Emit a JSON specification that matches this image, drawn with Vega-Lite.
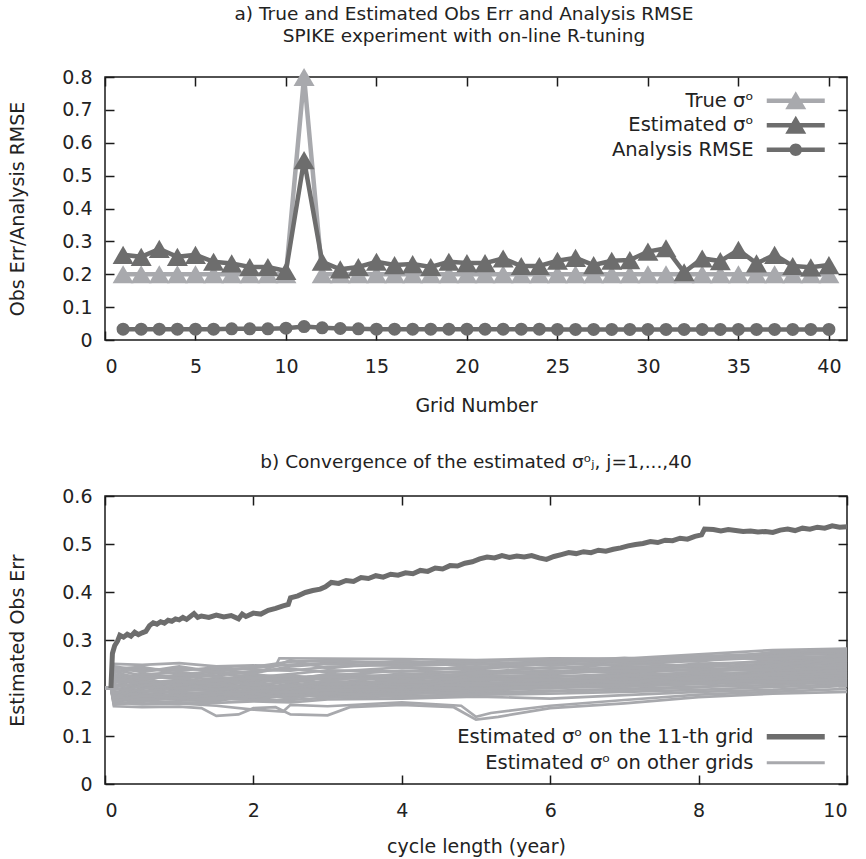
{
"$schema": "https://vega.github.io/schema/vega-lite/v6.json",
"padding": {"left": 8, "top": 4, "right": 18, "bottom": 10},
"bounds": "flush",
"spacing": 156,
"resolve": {"scale": {"color": "independent"}, "legend": {"color": "independent"}},
"config": {
  "font": "DejaVu Sans",
  "view": {"stroke": "#1a1a1a", "strokeWidth": 1.5},
  "axis": {"grid": false, "domain": false, "ticks": true, "zindex": 1, "tickOpacity": 1, "tickColor": "#1a1a1a", "tickSize": 9, "offset": -9, "tickWidth": 1.5, "labelFont": "DejaVu Sans", "labelFontSize": 19, "labelColor": "#222222", "titleFont": "DejaVu Sans", "titleFontSize": 19, "titleFontWeight": "normal", "titleColor": "#222222"},
  "axisY": {"labelPadding": 13, "titlePadding": 34},
  "axisX": {"labelPadding": 17, "titlePadding": 20},
  "title": {"font": "DejaVu Sans", "fontSize": 18.5, "fontWeight": "normal", "color": "#222222", "lineHeight": 22},
  "legend": {"labelFont": "DejaVu Sans", "labelFontSize": 19.5, "labelColor": "#222222", "padding": 0, "labelLimit": 0}
},
"datasets": {
"top": [
{"x":1,"tru":0.2,"est":0.259,"rmse":0.033},{"x":2,"tru":0.2,"est":0.253,"rmse":0.033},{"x":3,"tru":0.2,"est":0.277,"rmse":0.033},{"x":4,"tru":0.2,"est":0.253,"rmse":0.033},{"x":5,"tru":0.2,"est":0.259,"rmse":0.033},{"x":6,"tru":0.2,"est":0.238,"rmse":0.033},{"x":7,"tru":0.2,"est":0.233,"rmse":0.034},{"x":8,"tru":0.2,"est":0.222,"rmse":0.034},{"x":9,"tru":0.2,"est":0.222,"rmse":0.034},{"x":10,"tru":0.2,"est":0.21,"rmse":0.036},
{"x":11,"tru":0.8,"est":0.547,"rmse":0.041},{"x":12,"tru":0.2,"est":0.238,"rmse":0.037},{"x":13,"tru":0.2,"est":0.215,"rmse":0.035},{"x":14,"tru":0.2,"est":0.222,"rmse":0.034},{"x":15,"tru":0.2,"est":0.238,"rmse":0.033},{"x":16,"tru":0.2,"est":0.228,"rmse":0.033},{"x":17,"tru":0.2,"est":0.231,"rmse":0.033},{"x":18,"tru":0.2,"est":0.222,"rmse":0.033},{"x":19,"tru":0.2,"est":0.238,"rmse":0.033},{"x":20,"tru":0.2,"est":0.234,"rmse":0.033},
{"x":21,"tru":0.2,"est":0.234,"rmse":0.033},{"x":22,"tru":0.2,"est":0.248,"rmse":0.033},{"x":23,"tru":0.2,"est":0.225,"rmse":0.033},{"x":24,"tru":0.2,"est":0.225,"rmse":0.033},{"x":25,"tru":0.2,"est":0.241,"rmse":0.032},{"x":26,"tru":0.2,"est":0.25,"rmse":0.032},{"x":27,"tru":0.2,"est":0.228,"rmse":0.032},{"x":28,"tru":0.2,"est":0.241,"rmse":0.032},{"x":29,"tru":0.2,"est":0.243,"rmse":0.032},{"x":30,"tru":0.2,"est":0.269,"rmse":0.032},
{"x":31,"tru":0.2,"est":0.279,"rmse":0.032},{"x":32,"tru":0.2,"est":0.206,"rmse":0.032},{"x":33,"tru":0.2,"est":0.248,"rmse":0.032},{"x":34,"tru":0.2,"est":0.24,"rmse":0.032},{"x":35,"tru":0.2,"est":0.274,"rmse":0.032},{"x":36,"tru":0.2,"est":0.233,"rmse":0.032},{"x":37,"tru":0.2,"est":0.259,"rmse":0.032},{"x":38,"tru":0.2,"est":0.225,"rmse":0.032},{"x":39,"tru":0.2,"est":0.221,"rmse":0.032},{"x":40,"tru":0.2,"est":0.228,"rmse":0.032}
],
"g11": [
{"t":0.08,"v":0.2},{"t":0.1,"v":0.272},{"t":0.13,"v":0.288},{"t":0.17,"v":0.298},{"t":0.2,"v":0.31},{"t":0.25,"v":0.306},{"t":0.3,"v":0.312},{"t":0.35,"v":0.308},{"t":0.4,"v":0.316},{"t":0.45,"v":0.311},{"t":0.5,"v":0.315},{"t":0.55,"v":0.318},{"t":0.6,"v":0.33},{"t":0.65,"v":0.336},{"t":0.7,"v":0.333},{"t":0.75,"v":0.338},{"t":0.8,"v":0.335},{"t":0.85,"v":0.341},{"t":0.9,"v":0.339},{"t":0.95,"v":0.344},
{"t":1.0,"v":0.342},{"t":1.05,"v":0.347},{"t":1.1,"v":0.343},{"t":1.15,"v":0.349},{"t":1.2,"v":0.355},{"t":1.25,"v":0.347},{"t":1.3,"v":0.35},{"t":1.4,"v":0.347},{"t":1.5,"v":0.352},{"t":1.6,"v":0.348},{"t":1.7,"v":0.351},{"t":1.8,"v":0.344},{"t":1.85,"v":0.354},{"t":1.9,"v":0.349},{"t":2.0,"v":0.356},{"t":2.1,"v":0.354},{"t":2.2,"v":0.362},{"t":2.3,"v":0.366},{"t":2.4,"v":0.371},{"t":2.47,"v":0.374},
{"t":2.5,"v":0.388},{"t":2.6,"v":0.392},{"t":2.7,"v":0.399},{"t":2.8,"v":0.403},{"t":2.9,"v":0.406},{"t":2.97,"v":0.411},{"t":3.05,"v":0.42},{"t":3.15,"v":0.418},{"t":3.25,"v":0.424},{"t":3.35,"v":0.422},{"t":3.45,"v":0.43},{"t":3.55,"v":0.428},{"t":3.65,"v":0.434},{"t":3.75,"v":0.431},{"t":3.85,"v":0.437},{"t":3.95,"v":0.435},{"t":4.05,"v":0.44},{"t":4.15,"v":0.438},{"t":4.25,"v":0.445},{"t":4.35,"v":0.443},
{"t":4.45,"v":0.45},{"t":4.55,"v":0.448},{"t":4.65,"v":0.455},{"t":4.75,"v":0.454},{"t":4.85,"v":0.46},{"t":4.95,"v":0.463},{"t":5.05,"v":0.469},{"t":5.15,"v":0.473},{"t":5.25,"v":0.471},{"t":5.35,"v":0.476},{"t":5.45,"v":0.472},{"t":5.55,"v":0.475},{"t":5.65,"v":0.473},{"t":5.75,"v":0.476},{"t":5.85,"v":0.471},{"t":5.95,"v":0.468},{"t":6.05,"v":0.474},{"t":6.15,"v":0.478},{"t":6.25,"v":0.482},{"t":6.35,"v":0.48},
{"t":6.45,"v":0.484},{"t":6.55,"v":0.482},{"t":6.65,"v":0.487},{"t":6.75,"v":0.485},{"t":6.85,"v":0.489},{"t":6.95,"v":0.492},{"t":7.05,"v":0.496},{"t":7.15,"v":0.499},{"t":7.25,"v":0.501},{"t":7.35,"v":0.505},{"t":7.45,"v":0.503},{"t":7.55,"v":0.508},{"t":7.65,"v":0.507},{"t":7.75,"v":0.512},{"t":7.85,"v":0.51},{"t":7.95,"v":0.516},{"t":8.04,"v":0.519},{"t":8.08,"v":0.531},{"t":8.2,"v":0.53},{"t":8.3,"v":0.527},
{"t":8.4,"v":0.53},{"t":8.5,"v":0.528},{"t":8.6,"v":0.526},{"t":8.7,"v":0.527},{"t":8.8,"v":0.525},{"t":8.9,"v":0.526},{"t":9.0,"v":0.524},{"t":9.1,"v":0.529},{"t":9.2,"v":0.531},{"t":9.3,"v":0.528},{"t":9.4,"v":0.533},{"t":9.5,"v":0.531},{"t":9.6,"v":0.535},{"t":9.7,"v":0.533},{"t":9.8,"v":0.538},{"t":9.9,"v":0.535},{"t":10.0,"v":0.536}
],
"others": [
{"g":1,"t":0,"v":0.2},{"g":1,"t":0.08,"v":0.2},{"g":1,"t":0.12,"v":0.25},{"g":1,"t":0.5,"v":0.248},{"g":1,"t":1,"v":0.252},{"g":1,"t":1.5,"v":0.245},{"g":1,"t":2,"v":0.247},{"g":1,"t":2.3,"v":0.246},{"g":1,"t":2.35,"v":0.262},{"g":1,"t":3,"v":0.261},{"g":1,"t":4,"v":0.26},{"g":1,"t":5,"v":0.258},{"g":1,"t":6,"v":0.262},{"g":1,"t":7,"v":0.261},{"g":1,"t":8,"v":0.27},{"g":1,"t":9,"v":0.279},{"g":1,"t":10,"v":0.282},
{"g":2,"t":0,"v":0.2},{"g":2,"t":0.08,"v":0.2},{"g":2,"t":0.12,"v":0.232},{"g":2,"t":0.5,"v":0.241},{"g":2,"t":1,"v":0.236},{"g":2,"t":1.5,"v":0.243},{"g":2,"t":2,"v":0.238},{"g":2,"t":2.5,"v":0.236},{"g":2,"t":3,"v":0.244},{"g":2,"t":4,"v":0.249},{"g":2,"t":5,"v":0.252},{"g":2,"t":6,"v":0.247},{"g":2,"t":7,"v":0.255},{"g":2,"t":8,"v":0.262},{"g":2,"t":9,"v":0.269},{"g":2,"t":10,"v":0.271},
{"g":3,"t":0,"v":0.2},{"g":3,"t":0.08,"v":0.2},{"g":3,"t":0.12,"v":0.221},{"g":3,"t":0.5,"v":0.228},{"g":3,"t":1,"v":0.233},{"g":3,"t":1.5,"v":0.226},{"g":3,"t":2,"v":0.235},{"g":3,"t":2.5,"v":0.24},{"g":3,"t":3,"v":0.233},{"g":3,"t":4,"v":0.243},{"g":3,"t":5,"v":0.239},{"g":3,"t":6,"v":0.251},{"g":3,"t":7,"v":0.248},{"g":3,"t":8,"v":0.257},{"g":3,"t":9,"v":0.264},{"g":3,"t":10,"v":0.266},
{"g":4,"t":0,"v":0.2},{"g":4,"t":0.08,"v":0.2},{"g":4,"t":0.12,"v":0.238},{"g":4,"t":0.5,"v":0.226},{"g":4,"t":1,"v":0.219},{"g":4,"t":1.5,"v":0.231},{"g":4,"t":2,"v":0.222},{"g":4,"t":2.5,"v":0.229},{"g":4,"t":3,"v":0.237},{"g":4,"t":4,"v":0.234},{"g":4,"t":5,"v":0.245},{"g":4,"t":6,"v":0.241},{"g":4,"t":7,"v":0.25},{"g":4,"t":8,"v":0.246},{"g":4,"t":9,"v":0.258},{"g":4,"t":10,"v":0.263},
{"g":5,"t":0,"v":0.2},{"g":5,"t":0.08,"v":0.2},{"g":5,"t":0.12,"v":0.205},{"g":5,"t":0.5,"v":0.219},{"g":5,"t":1,"v":0.225},{"g":5,"t":1.5,"v":0.217},{"g":5,"t":2,"v":0.228},{"g":5,"t":2.5,"v":0.222},{"g":5,"t":3,"v":0.226},{"g":5,"t":4,"v":0.236},{"g":5,"t":5,"v":0.232},{"g":5,"t":6,"v":0.243},{"g":5,"t":7,"v":0.239},{"g":5,"t":8,"v":0.251},{"g":5,"t":9,"v":0.254},{"g":5,"t":10,"v":0.259},
{"g":6,"t":0,"v":0.2},{"g":6,"t":0.08,"v":0.2},{"g":6,"t":0.12,"v":0.229},{"g":6,"t":0.5,"v":0.212},{"g":6,"t":1,"v":0.208},{"g":6,"t":1.5,"v":0.22},{"g":6,"t":2,"v":0.213},{"g":6,"t":2.5,"v":0.224},{"g":6,"t":3,"v":0.218},{"g":6,"t":4,"v":0.228},{"g":6,"t":5,"v":0.236},{"g":6,"t":6,"v":0.233},{"g":6,"t":7,"v":0.245},{"g":6,"t":8,"v":0.243},{"g":6,"t":9,"v":0.251},{"g":6,"t":10,"v":0.256},
{"g":7,"t":0,"v":0.2},{"g":7,"t":0.08,"v":0.2},{"g":7,"t":0.12,"v":0.196},{"g":7,"t":0.5,"v":0.207},{"g":7,"t":1,"v":0.215},{"g":7,"t":1.5,"v":0.203},{"g":7,"t":2,"v":0.218},{"g":7,"t":2.5,"v":0.211},{"g":7,"t":3,"v":0.221},{"g":7,"t":4,"v":0.219},{"g":7,"t":5,"v":0.228},{"g":7,"t":6,"v":0.237},{"g":7,"t":7,"v":0.232},{"g":7,"t":8,"v":0.247},{"g":7,"t":9,"v":0.245},{"g":7,"t":10,"v":0.253},
{"g":8,"t":0,"v":0.2},{"g":8,"t":0.08,"v":0.2},{"g":8,"t":0.12,"v":0.213},{"g":8,"t":0.5,"v":0.222},{"g":8,"t":1,"v":0.203},{"g":8,"t":1.5,"v":0.211},{"g":8,"t":2,"v":0.201},{"g":8,"t":2.5,"v":0.216},{"g":8,"t":3,"v":0.209},{"g":8,"t":4,"v":0.225},{"g":8,"t":5,"v":0.221},{"g":8,"t":6,"v":0.229},{"g":8,"t":7,"v":0.238},{"g":8,"t":8,"v":0.236},{"g":8,"t":9,"v":0.248},{"g":8,"t":10,"v":0.25},
{"g":9,"t":0,"v":0.2},{"g":9,"t":0.08,"v":0.2},{"g":9,"t":0.12,"v":0.187},{"g":9,"t":0.5,"v":0.198},{"g":9,"t":1,"v":0.212},{"g":9,"t":1.5,"v":0.199},{"g":9,"t":2,"v":0.209},{"g":9,"t":2.5,"v":0.201},{"g":9,"t":3,"v":0.214},{"g":9,"t":4,"v":0.21},{"g":9,"t":5,"v":0.224},{"g":9,"t":6,"v":0.223},{"g":9,"t":7,"v":0.23},{"g":9,"t":8,"v":0.24},{"g":9,"t":9,"v":0.241},{"g":9,"t":10,"v":0.247},
{"g":10,"t":0,"v":0.2},{"g":10,"t":0.08,"v":0.2},{"g":10,"t":0.12,"v":0.225},{"g":10,"t":0.5,"v":0.203},{"g":10,"t":1,"v":0.196},{"g":10,"t":1.5,"v":0.207},{"g":10,"t":2,"v":0.197},{"g":10,"t":2.5,"v":0.209},{"g":10,"t":3,"v":0.203},{"g":10,"t":4,"v":0.216},{"g":10,"t":5,"v":0.213},{"g":10,"t":6,"v":0.226},{"g":10,"t":7,"v":0.222},{"g":10,"t":8,"v":0.233},{"g":10,"t":9,"v":0.244},{"g":10,"t":10,"v":0.244},
{"g":12,"t":0,"v":0.2},{"g":12,"t":0.08,"v":0.2},{"g":12,"t":0.12,"v":0.182},{"g":12,"t":0.5,"v":0.193},{"g":12,"t":1,"v":0.201},{"g":12,"t":1.5,"v":0.192},{"g":12,"t":2,"v":0.204},{"g":12,"t":2.5,"v":0.196},{"g":12,"t":3,"v":0.206},{"g":12,"t":4,"v":0.204},{"g":12,"t":5,"v":0.217},{"g":12,"t":6,"v":0.215},{"g":12,"t":7,"v":0.228},{"g":12,"t":8,"v":0.226},{"g":12,"t":9,"v":0.236},{"g":12,"t":10,"v":0.241},
{"g":13,"t":0,"v":0.2},{"g":13,"t":0.08,"v":0.2},{"g":13,"t":0.12,"v":0.209},{"g":13,"t":0.5,"v":0.187},{"g":13,"t":1,"v":0.193},{"g":13,"t":1.5,"v":0.201},{"g":13,"t":2,"v":0.191},{"g":13,"t":2.5,"v":0.204},{"g":13,"t":3,"v":0.198},{"g":13,"t":4,"v":0.212},{"g":13,"t":5,"v":0.207},{"g":13,"t":6,"v":0.22},{"g":13,"t":7,"v":0.217},{"g":13,"t":8,"v":0.231},{"g":13,"t":9,"v":0.229},{"g":13,"t":10,"v":0.239},
{"g":14,"t":0,"v":0.2},{"g":14,"t":0.08,"v":0.2},{"g":14,"t":0.12,"v":0.176},{"g":14,"t":0.5,"v":0.201},{"g":14,"t":1,"v":0.188},{"g":14,"t":1.5,"v":0.185},{"g":14,"t":2,"v":0.199},{"g":14,"t":2.5,"v":0.19},{"g":14,"t":3,"v":0.201},{"g":14,"t":4,"v":0.197},{"g":14,"t":5,"v":0.211},{"g":14,"t":6,"v":0.211},{"g":14,"t":7,"v":0.224},{"g":14,"t":8,"v":0.221},{"g":14,"t":9,"v":0.233},{"g":14,"t":10,"v":0.236},
{"g":15,"t":0,"v":0.2},{"g":15,"t":0.08,"v":0.2},{"g":15,"t":0.12,"v":0.2},{"g":15,"t":0.5,"v":0.182},{"g":15,"t":1,"v":0.197},{"g":15,"t":1.5,"v":0.194},{"g":15,"t":2,"v":0.186},{"g":15,"t":2.5,"v":0.199},{"g":15,"t":3,"v":0.193},{"g":15,"t":4,"v":0.206},{"g":15,"t":5,"v":0.203},{"g":15,"t":6,"v":0.217},{"g":15,"t":7,"v":0.213},{"g":15,"t":8,"v":0.228},{"g":15,"t":9,"v":0.226},{"g":15,"t":10,"v":0.234},
{"g":16,"t":0,"v":0.2},{"g":16,"t":0.08,"v":0.2},{"g":16,"t":0.12,"v":0.171},{"g":16,"t":0.5,"v":0.19},{"g":16,"t":1,"v":0.183},{"g":16,"t":1.5,"v":0.18},{"g":16,"t":2,"v":0.195},{"g":16,"t":2.5,"v":0.186},{"g":16,"t":3,"v":0.196},{"g":16,"t":4,"v":0.193},{"g":16,"t":5,"v":0.208},{"g":16,"t":6,"v":0.206},{"g":16,"t":7,"v":0.22},{"g":16,"t":8,"v":0.218},{"g":16,"t":9,"v":0.231},{"g":16,"t":10,"v":0.231},
{"g":17,"t":0,"v":0.2},{"g":17,"t":0.08,"v":0.2},{"g":17,"t":0.12,"v":0.193},{"g":17,"t":0.5,"v":0.178},{"g":17,"t":1,"v":0.19},{"g":17,"t":1.5,"v":0.188},{"g":17,"t":2,"v":0.182},{"g":17,"t":2.5,"v":0.193},{"g":17,"t":3,"v":0.189},{"g":17,"t":4,"v":0.2},{"g":17,"t":5,"v":0.199},{"g":17,"t":6,"v":0.212},{"g":17,"t":7,"v":0.209},{"g":17,"t":8,"v":0.224},{"g":17,"t":9,"v":0.222},{"g":17,"t":10,"v":0.229},
{"g":18,"t":0,"v":0.2},{"g":18,"t":0.08,"v":0.2},{"g":18,"t":0.12,"v":0.168},{"g":18,"t":0.5,"v":0.185},{"g":18,"t":1,"v":0.179},{"g":18,"t":1.5,"v":0.176},{"g":18,"t":2,"v":0.19},{"g":18,"t":2.5,"v":0.183},{"g":18,"t":3,"v":0.192},{"g":18,"t":4,"v":0.189},{"g":18,"t":5,"v":0.204},{"g":18,"t":6,"v":0.203},{"g":18,"t":7,"v":0.216},{"g":18,"t":8,"v":0.215},{"g":18,"t":9,"v":0.227},{"g":18,"t":10,"v":0.226},
{"g":19,"t":0,"v":0.2},{"g":19,"t":0.08,"v":0.2},{"g":19,"t":0.12,"v":0.186},{"g":19,"t":0.5,"v":0.174},{"g":19,"t":1,"v":0.185},{"g":19,"t":1.5,"v":0.183},{"g":19,"t":2,"v":0.178},{"g":19,"t":2.5,"v":0.189},{"g":19,"t":3,"v":0.185},{"g":19,"t":4,"v":0.196},{"g":19,"t":5,"v":0.196},{"g":19,"t":6,"v":0.208},{"g":19,"t":7,"v":0.206},{"g":19,"t":8,"v":0.22},{"g":19,"t":9,"v":0.219},{"g":19,"t":10,"v":0.224},
{"g":20,"t":0,"v":0.2},{"g":20,"t":0.08,"v":0.2},{"g":20,"t":0.12,"v":0.179},{"g":20,"t":0.5,"v":0.181},{"g":20,"t":1,"v":0.175},{"g":20,"t":1.5,"v":0.172},{"g":20,"t":2,"v":0.186},{"g":20,"t":2.5,"v":0.18},{"g":20,"t":3,"v":0.188},{"g":20,"t":4,"v":0.185},{"g":20,"t":5,"v":0.201},{"g":20,"t":6,"v":0.199},{"g":20,"t":7,"v":0.212},{"g":20,"t":8,"v":0.212},{"g":20,"t":9,"v":0.224},{"g":20,"t":10,"v":0.221},
{"g":21,"t":0,"v":0.2},{"g":21,"t":0.08,"v":0.2},{"g":21,"t":0.12,"v":0.165},{"g":21,"t":0.5,"v":0.171},{"g":21,"t":1,"v":0.182},{"g":21,"t":1.5,"v":0.178},{"g":21,"t":2,"v":0.175},{"g":21,"t":2.5,"v":0.186},{"g":21,"t":3,"v":0.182},{"g":21,"t":4,"v":0.192},{"g":21,"t":5,"v":0.193},{"g":21,"t":6,"v":0.205},{"g":21,"t":7,"v":0.203},{"g":21,"t":8,"v":0.217},{"g":21,"t":9,"v":0.216},{"g":21,"t":10,"v":0.219},
{"g":22,"t":0,"v":0.2},{"g":22,"t":0.08,"v":0.2},{"g":22,"t":0.12,"v":0.245},{"g":22,"t":0.5,"v":0.236},{"g":22,"t":1,"v":0.24},{"g":22,"t":1.5,"v":0.237},{"g":22,"t":2,"v":0.242},{"g":22,"t":2.5,"v":0.249},{"g":22,"t":3,"v":0.252},{"g":22,"t":4,"v":0.255},{"g":22,"t":5,"v":0.249},{"g":22,"t":6,"v":0.256},{"g":22,"t":7,"v":0.258},{"g":22,"t":8,"v":0.266},{"g":22,"t":9,"v":0.272},{"g":22,"t":10,"v":0.276},
{"g":23,"t":0,"v":0.2},{"g":23,"t":0.08,"v":0.2},{"g":23,"t":0.12,"v":0.24},{"g":23,"t":0.5,"v":0.244},{"g":23,"t":1,"v":0.229},{"g":23,"t":1.5,"v":0.234},{"g":23,"t":2,"v":0.244},{"g":23,"t":2.5,"v":0.255},{"g":23,"t":3,"v":0.257},{"g":23,"t":4,"v":0.252},{"g":23,"t":5,"v":0.256},{"g":23,"t":6,"v":0.259},{"g":23,"t":7,"v":0.253},{"g":23,"t":8,"v":0.259},{"g":23,"t":9,"v":0.266},{"g":23,"t":10,"v":0.275},
{"g":24,"t":0,"v":0.2},{"g":24,"t":0.08,"v":0.2},{"g":24,"t":0.12,"v":0.216},{"g":24,"t":0.5,"v":0.23},{"g":24,"t":1,"v":0.222},{"g":24,"t":1.5,"v":0.239},{"g":24,"t":2,"v":0.231},{"g":24,"t":2.5,"v":0.245},{"g":24,"t":3,"v":0.25},{"g":24,"t":4,"v":0.246},{"g":24,"t":5,"v":0.25},{"g":24,"t":6,"v":0.254},{"g":24,"t":7,"v":0.257},{"g":24,"t":8,"v":0.264},{"g":24,"t":9,"v":0.26},{"g":24,"t":10,"v":0.268},
{"g":25,"t":0,"v":0.2},{"g":25,"t":0.08,"v":0.2},{"g":25,"t":0.12,"v":0.162},{"g":25,"t":0.5,"v":0.16},{"g":25,"t":1,"v":0.161},{"g":25,"t":1.3,"v":0.158},{"g":25,"t":1.5,"v":0.142},{"g":25,"t":1.8,"v":0.145},{"g":25,"t":2,"v":0.158},{"g":25,"t":2.3,"v":0.16},{"g":25,"t":2.5,"v":0.145},{"g":25,"t":3,"v":0.143},{"g":25,"t":3.3,"v":0.16},{"g":25,"t":4,"v":0.165},{"g":25,"t":4.7,"v":0.16},{"g":25,"t":5,"v":0.134},{"g":25,"t":5.3,"v":0.14},{"g":25,"t":6,"v":0.158},{"g":25,"t":7,"v":0.168},{"g":25,"t":8,"v":0.181},{"g":25,"t":9,"v":0.188},{"g":25,"t":10,"v":0.192},
{"g":26,"t":0,"v":0.2},{"g":26,"t":0.08,"v":0.2},{"g":26,"t":0.12,"v":0.17},{"g":26,"t":0.5,"v":0.166},{"g":26,"t":1,"v":0.168},{"g":26,"t":1.5,"v":0.163},{"g":26,"t":2,"v":0.155},{"g":26,"t":2.4,"v":0.151},{"g":26,"t":2.5,"v":0.165},{"g":26,"t":3,"v":0.162},{"g":26,"t":4,"v":0.17},{"g":26,"t":4.8,"v":0.163},{"g":26,"t":5,"v":0.14},{"g":26,"t":5.2,"v":0.148},{"g":26,"t":6,"v":0.163},{"g":26,"t":7,"v":0.175},{"g":26,"t":8,"v":0.186},{"g":26,"t":9,"v":0.192},{"g":26,"t":10,"v":0.198},
{"g":27,"t":0,"v":0.2},{"g":27,"t":0.08,"v":0.2},{"g":27,"t":0.12,"v":0.175},{"g":27,"t":0.5,"v":0.172},{"g":27,"t":1,"v":0.17},{"g":27,"t":1.5,"v":0.169},{"g":27,"t":2,"v":0.172},{"g":27,"t":2.5,"v":0.17},{"g":27,"t":3,"v":0.176},{"g":27,"t":4,"v":0.178},{"g":27,"t":5,"v":0.182},{"g":27,"t":6,"v":0.178},{"g":27,"t":7,"v":0.185},{"g":27,"t":8,"v":0.192},{"g":27,"t":9,"v":0.196},{"g":27,"t":10,"v":0.205},
{"g":28,"t":0,"v":0.2},{"g":28,"t":0.08,"v":0.2},{"g":28,"t":0.12,"v":0.181},{"g":28,"t":0.5,"v":0.177},{"g":28,"t":1,"v":0.176},{"g":28,"t":1.5,"v":0.179},{"g":28,"t":2,"v":0.176},{"g":28,"t":2.5,"v":0.175},{"g":28,"t":3,"v":0.18},{"g":28,"t":4,"v":0.183},{"g":28,"t":5,"v":0.186},{"g":28,"t":6,"v":0.188},{"g":28,"t":7,"v":0.192},{"g":28,"t":8,"v":0.196},{"g":28,"t":9,"v":0.202},{"g":28,"t":10,"v":0.208},
{"g":29,"t":0,"v":0.2},{"g":29,"t":0.08,"v":0.2},{"g":29,"t":0.12,"v":0.19},{"g":29,"t":0.5,"v":0.186},{"g":29,"t":1,"v":0.184},{"g":29,"t":1.5,"v":0.187},{"g":29,"t":2,"v":0.181},{"g":29,"t":2.5,"v":0.195},{"g":29,"t":3,"v":0.187},{"g":29,"t":4,"v":0.188},{"g":29,"t":5,"v":0.19},{"g":29,"t":6,"v":0.194},{"g":29,"t":7,"v":0.198},{"g":29,"t":8,"v":0.203},{"g":29,"t":9,"v":0.206},{"g":29,"t":10,"v":0.213},
{"g":30,"t":0,"v":0.2},{"g":30,"t":0.08,"v":0.2},{"g":30,"t":0.12,"v":0.198},{"g":30,"t":0.5,"v":0.194},{"g":30,"t":1,"v":0.191},{"g":30,"t":1.5,"v":0.19},{"g":30,"t":2,"v":0.194},{"g":30,"t":2.5,"v":0.191},{"g":30,"t":3,"v":0.196},{"g":30,"t":4,"v":0.199},{"g":30,"t":5,"v":0.194},{"g":30,"t":6,"v":0.2},{"g":30,"t":7,"v":0.203},{"g":30,"t":8,"v":0.208},{"g":30,"t":9,"v":0.212},{"g":30,"t":10,"v":0.216},
{"g":31,"t":0,"v":0.2},{"g":31,"t":0.08,"v":0.2},{"g":31,"t":0.12,"v":0.203},{"g":31,"t":0.5,"v":0.209},{"g":31,"t":1,"v":0.199},{"g":31,"t":1.5,"v":0.205},{"g":31,"t":2,"v":0.197},{"g":31,"t":2.5,"v":0.207},{"g":31,"t":3,"v":0.201},{"g":31,"t":4,"v":0.203},{"g":31,"t":5,"v":0.198},{"g":31,"t":6,"v":0.204},{"g":31,"t":7,"v":0.207},{"g":31,"t":8,"v":0.213},{"g":31,"t":9,"v":0.209},{"g":31,"t":10,"v":0.221},
{"g":32,"t":0,"v":0.2},{"g":32,"t":0.08,"v":0.2},{"g":32,"t":0.12,"v":0.212},{"g":32,"t":0.5,"v":0.215},{"g":32,"t":1,"v":0.209},{"g":32,"t":1.5,"v":0.196},{"g":32,"t":2,"v":0.206},{"g":32,"t":2.5,"v":0.198},{"g":32,"t":3,"v":0.212},{"g":32,"t":4,"v":0.208},{"g":32,"t":5,"v":0.206},{"g":32,"t":6,"v":0.21},{"g":32,"t":7,"v":0.214},{"g":32,"t":8,"v":0.21},{"g":32,"t":9,"v":0.217},{"g":32,"t":10,"v":0.225},
{"g":33,"t":0,"v":0.2},{"g":33,"t":0.08,"v":0.2},{"g":33,"t":0.12,"v":0.219},{"g":33,"t":0.5,"v":0.21},{"g":33,"t":1,"v":0.217},{"g":33,"t":1.5,"v":0.214},{"g":33,"t":2,"v":0.21},{"g":33,"t":2.5,"v":0.22},{"g":33,"t":3,"v":0.207},{"g":33,"t":4,"v":0.213},{"g":33,"t":5,"v":0.211},{"g":33,"t":6,"v":0.207},{"g":33,"t":7,"v":0.218},{"g":33,"t":8,"v":0.219},{"g":33,"t":9,"v":0.221},{"g":33,"t":10,"v":0.228},
{"g":34,"t":0,"v":0.2},{"g":34,"t":0.08,"v":0.2},{"g":34,"t":0.12,"v":0.227},{"g":34,"t":0.5,"v":0.224},{"g":34,"t":1,"v":0.221},{"g":34,"t":1.5,"v":0.21},{"g":34,"t":2,"v":0.225},{"g":34,"t":2.5,"v":0.213},{"g":34,"t":3,"v":0.225},{"g":34,"t":4,"v":0.222},{"g":34,"t":5,"v":0.217},{"g":34,"t":6,"v":0.219},{"g":34,"t":7,"v":0.211},{"g":34,"t":8,"v":0.223},{"g":34,"t":9,"v":0.226},{"g":34,"t":10,"v":0.232},
{"g":35,"t":0,"v":0.2},{"g":35,"t":0.08,"v":0.2},{"g":35,"t":0.12,"v":0.234},{"g":35,"t":0.5,"v":0.218},{"g":35,"t":1,"v":0.228},{"g":35,"t":1.5,"v":0.223},{"g":35,"t":2,"v":0.217},{"g":35,"t":2.5,"v":0.227},{"g":35,"t":3,"v":0.216},{"g":35,"t":4,"v":0.23},{"g":35,"t":5,"v":0.226},{"g":35,"t":6,"v":0.224},{"g":35,"t":7,"v":0.226},{"g":35,"t":8,"v":0.217},{"g":35,"t":9,"v":0.23},{"g":35,"t":10,"v":0.237},
{"g":36,"t":0,"v":0.2},{"g":36,"t":0.08,"v":0.2},{"g":36,"t":0.12,"v":0.185},{"g":36,"t":0.5,"v":0.199},{"g":36,"t":1,"v":0.205},{"g":36,"t":1.5,"v":0.215},{"g":36,"t":2,"v":0.221},{"g":36,"t":2.5,"v":0.217},{"g":36,"t":3,"v":0.229},{"g":36,"t":4,"v":0.224},{"g":36,"t":5,"v":0.23},{"g":36,"t":6,"v":0.232},{"g":36,"t":7,"v":0.235},{"g":36,"t":8,"v":0.239},{"g":36,"t":9,"v":0.236},{"g":36,"t":10,"v":0.243},
{"g":37,"t":0,"v":0.2},{"g":37,"t":0.08,"v":0.2},{"g":37,"t":0.12,"v":0.172},{"g":37,"t":0.5,"v":0.184},{"g":37,"t":1,"v":0.178},{"g":37,"t":1.5,"v":0.186},{"g":37,"t":2,"v":0.189},{"g":37,"t":2.5,"v":0.178},{"g":37,"t":3,"v":0.19},{"g":37,"t":4,"v":0.181},{"g":37,"t":5,"v":0.186},{"g":37,"t":6,"v":0.193},{"g":37,"t":7,"v":0.196},{"g":37,"t":8,"v":0.201},{"g":37,"t":9,"v":0.213},{"g":37,"t":10,"v":0.21},
{"g":38,"t":0,"v":0.2},{"g":38,"t":0.08,"v":0.2},{"g":38,"t":0.12,"v":0.243},{"g":38,"t":0.5,"v":0.233},{"g":38,"t":1,"v":0.245},{"g":38,"t":1.5,"v":0.233},{"g":38,"t":2,"v":0.229},{"g":38,"t":2.5,"v":0.258},{"g":38,"t":3,"v":0.241},{"g":38,"t":4,"v":0.257},{"g":38,"t":5,"v":0.243},{"g":38,"t":6,"v":0.254},{"g":38,"t":7,"v":0.263},{"g":38,"t":8,"v":0.255},{"g":38,"t":9,"v":0.275},{"g":38,"t":10,"v":0.278},
{"g":39,"t":0,"v":0.2},{"g":39,"t":0.08,"v":0.2},{"g":39,"t":0.12,"v":0.201},{"g":39,"t":0.5,"v":0.213},{"g":39,"t":1,"v":0.206},{"g":39,"t":1.5,"v":0.218},{"g":39,"t":2,"v":0.206},{"g":39,"t":2.5,"v":0.213},{"g":39,"t":3,"v":0.224},{"g":39,"t":4,"v":0.214},{"g":39,"t":5,"v":0.233},{"g":39,"t":6,"v":0.23},{"g":39,"t":7,"v":0.243},{"g":39,"t":8,"v":0.236},{"g":39,"t":9,"v":0.238},{"g":39,"t":10,"v":0.258},
{"g":40,"t":0,"v":0.2},{"g":40,"t":0.08,"v":0.2},{"g":40,"t":0.12,"v":0.188},{"g":40,"t":0.5,"v":0.205},{"g":40,"t":1,"v":0.214},{"g":40,"t":1.5,"v":0.208},{"g":40,"t":2,"v":0.2},{"g":40,"t":2.5,"v":0.203},{"g":40,"t":3,"v":0.216},{"g":40,"t":4,"v":0.2},{"g":40,"t":5,"v":0.22},{"g":40,"t":6,"v":0.216},{"g":40,"t":7,"v":0.227},{"g":40,"t":8,"v":0.232},{"g":40,"t":9,"v":0.247},{"g":40,"t":10,"v":0.262}
]
},
"vconcat": [
{
  "width": 742, "height": 263,
  "title": {"text": ["a) True and Estimated Obs Err and Analysis RMSE", "SPIKE experiment with on-line R-tuning"], "offset": 22, "dx": -12},
  "data": {"name": "top"},
  "layer": [
    {"mark": {"type": "line", "strokeWidth": 4.5, "point": {"shape": "triangle-up", "size": 440, "filled": true}},
     "encoding": {
       "x": {"field": "x", "type": "quantitative", "scale": {"domain": [0, 41], "nice": false}, "axis": {"values": [0,5,10,15,20,25,30,35,40], "title": "Grid Number"}},
       "y": {"field": "tru", "type": "quantitative", "scale": {"domain": [0, 0.8], "nice": false}, "axis": {"values": [0,0.1,0.2,0.3,0.4,0.5,0.6,0.7,0.8], "format": "~g", "title": "Obs Err/Analysis RMSE"}},
       "color": {"datum": "True σᵒ", "type": "nominal",
         "scale": {"domain": ["True σᵒ", "Estimated σᵒ", "Analysis RMSE"], "range": ["#a8a9ad", "#6d6d6d", "#6d6d6d"]},
         "legend": {"title": null, "orient": "none", "legendX": 681, "legendY": 14, "symbolSize": 100, "symbolStrokeWidth": 4.5, "labelAlign": "right", "labelOffset": -52, "rowPadding": 3.5,
           "encode": {"symbols": {"update": {
             "shape": {"signal": "datum.value === 'Analysis RMSE' ? 'M-5.8,-0.45L5.8,-0.45L5.8,0.45L-5.8,0.45ZM1.25,0A1.25,1.25,0,1,1,-1.25,0A1.25,1.25,0,1,1,1.25,0Z' : 'M-5.8,-0.45L5.8,-0.45L5.8,0.45L-5.8,0.45ZM0,-1.9L2.1,1.7L-2.1,1.7Z'"},
             "fill": {"signal": "datum.value === 'True σᵒ' ? '#a8a9ad' : '#6d6d6d'"},
             "stroke": {"value": "transparent"},
             "strokeWidth": {"value": 0},
             "opacity": {"value": 1}}}}}}
     }},
    {"mark": {"type": "line", "strokeWidth": 4.5, "point": {"shape": "triangle-up", "size": 440, "filled": true}},
     "encoding": {
       "x": {"field": "x", "type": "quantitative", "scale": {"domain": [0, 41], "nice": false}, "axis": null},
       "y": {"field": "est", "type": "quantitative", "scale": {"domain": [0, 0.8], "nice": false}, "axis": null},
       "color": {"datum": "Estimated σᵒ", "type": "nominal"}
     }},
    {"mark": {"type": "line", "strokeWidth": 4.5, "point": {"shape": "circle", "size": 170, "filled": true}},
     "encoding": {
       "x": {"field": "x", "type": "quantitative", "scale": {"domain": [0, 41], "nice": false}, "axis": null},
       "y": {"field": "rmse", "type": "quantitative", "scale": {"domain": [0, 0.8], "nice": false}, "axis": null},
       "color": {"datum": "Analysis RMSE", "type": "nominal"}
     }},
    {"mark": {"type": "point", "opacity": 0},
     "encoding": {
       "x": {"field": "x", "type": "quantitative", "scale": {"domain": [0, 41], "nice": false}, "axis": {"orient": "top", "values": [0,5,10,15,20,25,30,35,40], "labels": false, "title": null}},
       "y": {"field": "tru", "type": "quantitative", "scale": {"domain": [0, 0.8], "nice": false}, "axis": {"orient": "right", "values": [0,0.1,0.2,0.3,0.4,0.5,0.6,0.7,0.8], "labels": false, "title": null}}
     }}
  ],
  "resolve": {"axis": {"x": "independent", "y": "independent"}}
},
{
  "width": 742, "height": 288,
  "title": {"text": "b) Convergence of the estimated σᵒⱼ, j=1,...,40", "offset": 16},
  "layer": [
    {"data": {"name": "others"},
     "mark": {"type": "line", "strokeWidth": 2.7},
     "encoding": {
       "x": {"field": "t", "type": "quantitative", "scale": {"domain": [0, 10], "nice": false}, "axis": {"values": [0,2,4,6,8,10], "title": "cycle length (year)", "titlePadding": 17}},
       "y": {"field": "v", "type": "quantitative", "scale": {"domain": [0, 0.6], "nice": false}, "axis": {"values": [0,0.1,0.2,0.3,0.4,0.5,0.6], "format": "~g", "title": "Estimated Obs Err"}},
       "detail": {"field": "g", "type": "nominal"},
       "color": {"datum": "Estimated σᵒ on  other grids", "type": "nominal",
         "scale": {"domain": ["Estimated σᵒ on the 11-th grid", "Estimated σᵒ on  other grids"], "range": ["#6d6d6d", "#a8a9ad"]},
         "legend": {"title": null, "orient": "none", "legendX": 681, "legendY": 231, "symbolSize": 100, "symbolStrokeWidth": 4.5, "labelAlign": "right", "labelOffset": -52, "rowPadding": 5,
           "encode": {"symbols": {"update": {
             "shape": {"signal": "datum.value === 'Estimated σᵒ on  other grids' ? 'M-5.8,-0.3L5.8,-0.3L5.8,0.3L-5.8,0.3Z' : 'M-5.8,-0.55L5.8,-0.55L5.8,0.55L-5.8,0.55Z'"},
             "fill": {"signal": "datum.value === 'Estimated σᵒ on  other grids' ? '#a8a9ad' : '#6d6d6d'"},
             "stroke": {"value": "transparent"},
             "strokeWidth": {"value": 0},
             "opacity": {"value": 1}}}}}}
     }},
    {"data": {"name": "g11"},
     "mark": {"type": "line", "strokeWidth": 5},
     "encoding": {
       "x": {"field": "t", "type": "quantitative", "scale": {"domain": [0, 10], "nice": false}, "axis": null},
       "y": {"field": "v", "type": "quantitative", "scale": {"domain": [0, 0.6], "nice": false}, "axis": null},
       "color": {"datum": "Estimated σᵒ on the 11-th grid", "type": "nominal"}
     }},
    {"data": {"name": "g11"},
     "mark": {"type": "point", "opacity": 0},
     "encoding": {
       "x": {"field": "t", "type": "quantitative", "scale": {"domain": [0, 10], "nice": false}, "axis": {"orient": "top", "values": [0,2,4,6,8,10], "labels": false, "title": null}},
       "y": {"field": "v", "type": "quantitative", "scale": {"domain": [0, 0.6], "nice": false}, "axis": {"orient": "right", "values": [0,0.1,0.2,0.3,0.4,0.5,0.6], "labels": false, "title": null}}
     }}
  ],
  "resolve": {"axis": {"x": "independent", "y": "independent"}}
}
]
}
